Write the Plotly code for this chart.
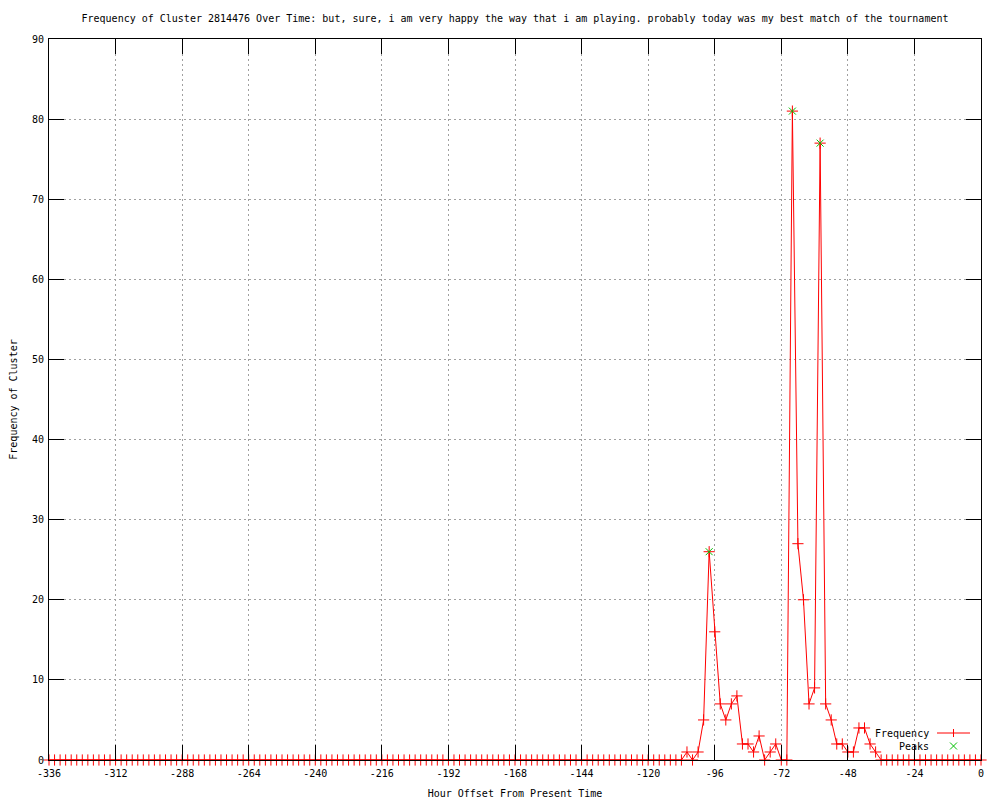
import plotly.graph_objects as go

# ---- data ----
hours = list(range(-336, 1, 2))
frequency = [
    0, 0, 0, 0, 0, 0, 0, 0, 0, 0, 0, 0, 0, 0, 0, 0, 0, 0, 0, 0,
    0, 0, 0, 0, 0, 0, 0, 0, 0, 0, 0, 0, 0, 0, 0, 0, 0, 0, 0, 0,
    0, 0, 0, 0, 0, 0, 0, 0, 0, 0, 0, 0, 0, 0, 0, 0, 0, 0, 0, 0,
    0, 0, 0, 0, 0, 0, 0, 0, 0, 0, 0, 0, 0, 0, 0, 0, 0, 0, 0, 0,
    0, 0, 0, 0, 0, 0, 0, 0, 0, 0, 0, 0, 0, 0, 0, 0, 0, 0, 0, 0,
    0, 0, 0, 0, 0, 0, 0, 0, 0, 0, 0, 0, 0, 0, 0,
    1, 0, 1, 5, 26, 16, 7, 5, 7, 8, 2, 2, 1, 3, 0, 1, 2, 0, 0,
    81, 27, 20, 7, 9, 77, 7, 5, 2, 2, 1, 1, 4, 4, 2, 1,
    0, 0, 0, 0, 0, 0, 0, 0, 0, 0, 0, 0, 0, 0, 0, 0, 0, 0, 0,
]
peak_hours = [-98, -68, -58]
peak_values = [26, 81, 77]

x_tick_vals = [-336, -312, -288, -264, -240, -216, -192, -168, -144, -120,
               -96, -72, -48, -24, 0]
x_tick_text = ["-336", "-312", "-288", "-264", "-240", "-216", "-192", "-168",
               "-144", "-120", "-96", "-72", "-48", "-24", "0"]
y_tick_vals = [0, 10, 20, 30, 40, 50, 60, 70, 80, 90]

title_text = ("Frequency of Cluster 2814476 Over Time: but, sure, i am very happy "
              "the way that i am playing. probably today was my best match of the tournament")

FONT = "DejaVu Sans Mono"
RED = "#ff0000"
GREEN = "#00c000"

fig = go.Figure()
fig.add_trace(go.Scatter(
    x=hours, y=frequency, mode="lines+markers", name="Frequency",
    line=dict(color=RED, width=1),
    marker=dict(symbol="cross-thin", size=8, line=dict(color=RED, width=1)),
    cliponaxis=False, showlegend=False,
))
fig.add_trace(go.Scatter(
    x=peak_hours, y=peak_values, mode="markers", name="Peaks",
    marker=dict(symbol="x-thin", size=7, line=dict(color=GREEN, width=1)),
    cliponaxis=False, showlegend=False,
))

# page body has an 8px margin: figure sized/offset to compensate
OFF = 8
W, H = 1000 - OFF, 800 - OFF
L, R, T, B = 49 - OFF, 19, 39 - OFF, 40
pw, ph = W - L - R, H - T - B


def px(xw):
    return (xw - OFF - L) / pw


def py(yw):
    return (H - B - (yw - OFF)) / ph


shapes = []
annotations = []
ly1, ly2 = 733, 746
annotations.append(dict(x=px(931), y=py(ly1), xref="paper", yref="paper",
                        text="Frequency", showarrow=False, xanchor="right",
                        yanchor="middle", font=dict(family=FONT, size=10, color="black")))
shapes.append(dict(type="line", xref="paper", yref="paper",
                   x0=px(937), x1=px(970), y0=py(ly1), y1=py(ly1),
                   line=dict(color=RED, width=1)))
shapes.append(dict(type="line", xref="paper", yref="paper",
                   x0=px(953.5), x1=px(953.5), y0=py(ly1 + 4), y1=py(ly1 - 4),
                   line=dict(color=RED, width=1)))
annotations.append(dict(x=px(931), y=py(ly2), xref="paper", yref="paper",
                        text="Peaks", showarrow=False, xanchor="right",
                        yanchor="middle", font=dict(family=FONT, size=10, color="black")))
shapes.append(dict(type="line", xref="paper", yref="paper",
                   x0=px(950), x1=px(957), y0=py(ly2 - 3.5), y1=py(ly2 + 3.5),
                   line=dict(color=GREEN, width=1)))
shapes.append(dict(type="line", xref="paper", yref="paper",
                   x0=px(950), x1=px(957), y0=py(ly2 + 3.5), y1=py(ly2 - 3.5),
                   line=dict(color=GREEN, width=1)))

axis_common = dict(
    showline=True, linecolor="black", linewidth=1, mirror="ticks",
    ticks="inside", ticklen=15, tickcolor="black", tickwidth=1,
    showgrid=True, gridcolor="#a0a0a0", gridwidth=1, griddash="2px,3px",
    zeroline=False, automargin=False,
    tickfont=dict(family=FONT, size=10, color="black"),
)

fig.update_layout(
    width=W, height=H,
    margin=dict(l=L, r=R, t=T, b=B, pad=0),
    paper_bgcolor="white", plot_bgcolor="white",
    font=dict(family=FONT, size=10, color="black"),
    title=dict(text=title_text, x=0.5, xref="paper", xanchor="center",
               y=1 - (18 - OFF) / H, yref="container", yanchor="middle",
               font=dict(family=FONT, size=10, color="black")),
    xaxis=dict(range=[-336, 0], tickvals=x_tick_vals, ticktext=x_tick_text,
               ticklabelstandoff=4,
               title=dict(text="Hour Offset From Present Time", standoff=11,
                          font=dict(family=FONT, size=10, color="black")),
               **axis_common),
    yaxis=dict(range=[0, 90], tickvals=y_tick_vals, ticklabelstandoff=2,
               title=dict(text="Frequency of Cluster", standoff=12,
                          font=dict(family=FONT, size=10, color="black")),
               **axis_common),
    shapes=shapes, annotations=annotations,
    showlegend=False,
)

fig.write_html("out.html")
